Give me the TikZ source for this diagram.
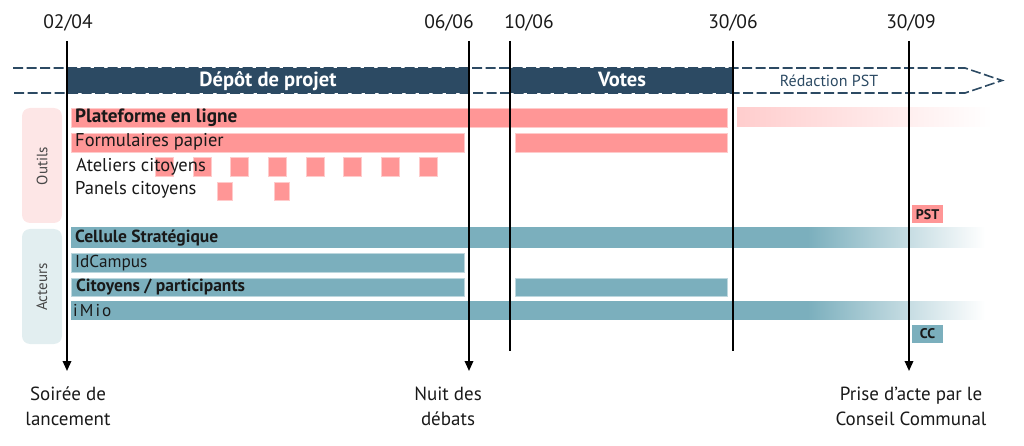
\documentclass[tikz,border=0pt]{standalone}
\usepackage{fontspec}
\setmainfont{PT Sans}
\usetikzlibrary{arrows.meta}
\definecolor{dark}{RGB}{44,74,99}
\definecolor{pinkbar}{RGB}{255,150,150}
\definecolor{pinkfade}{RGB}{255,205,205}
\definecolor{pinklight}{RGB}{253,230,230}
\definecolor{bluebar}{RGB}{123,175,189}
\definecolor{bluelight}{RGB}{226,238,240}
\definecolor{txt}{RGB}{25,25,25}
\pgfdeclarehorizontalshading{bluefade}{100bp}{color(0bp)=(bluebar); color(25bp)=(bluebar); color(65.3bp)=(bluebar); color(75bp)=(white); color(100bp)=(white)}
\pgfdeclarehorizontalshading{pinkfadeout}{100bp}{color(0bp)=(pinkfade); color(25bp)=(pinkfade); color(74bp)=(white); color(100bp)=(white)}
\tikzset{
  pbar/.style={fill=pinkbar, draw=pinkbar!50!white, line width=0.6pt},
  bbar/.style={fill=bluebar, draw=bluebar!50!white, line width=0.6pt},
  phase/.style={fill=dark},
  dashline/.style={draw=dark, line width=1.6pt, dash pattern=on 10pt off 3.5pt},
  vline/.style={draw=black, line width=1.8pt},
  varrow/.style={vline, -{Triangle[length=10pt,width=8.5pt]}},
  datelbl/.style={inner sep=0, anchor=base, text=txt, font=\fontsize{19.5}{23}\selectfont},
  botlbl/.style={inner sep=0, anchor=north, align=center, text=txt, font=\fontsize{19}{25}\selectfont},
  prow/.style={inner sep=0, anchor=base west, text=txt, font=\fontsize{18.5}{20}\selectfont},
  prowb/.style={prow, font=\bfseries\fontsize{19.2}{20}\selectfont},
  brow/.style={inner sep=0, anchor=base west, text=txt, font=\fontsize{17.2}{18}\selectfont},
  browb/.style={brow, font=\bfseries\fontsize{17.5}{18}\selectfont},
  phaselbl/.style={inner sep=0, anchor=base, text=white, font=\bfseries\fontsize{20.5}{22}\selectfont},
  grp/.style={rounded corners=8pt},
  grplbl/.style={inner sep=0, rotate=90, text=txt!80, font=\fontsize{15}{18}\selectfont},
  tag/.style={inner sep=0, minimum width=31pt, minimum height=18pt, font=\bfseries\fontsize{14}{16}\selectfont, text=txt}
}
\begin{document}
\begin{tikzpicture}[x=1pt,y=-1pt]
\useasboundingbox (0,0) rectangle (1024,446);

% group boxes
\fill[pinklight, grp] (22,108) rectangle (62,223);
\fill[bluelight, grp] (22,229) rectangle (62,344);
\node[grplbl] (outils) at (42,166) {Outils};
\node[grplbl] (acteurs) at (42,287) {Acteurs};

% dashed header
\draw[dashline] (13,68) -- (965,68) -- (1002,80.5) -- (965,93) -- (13,93);
\fill[phase] (67,68) rectangle (469,93);
\fill[phase] (510,68) rectangle (733,93);
\node[phaselbl] (depot) at (268,86.5) {Dépôt de projet};
\node[phaselbl] (votes) at (622,87) {Votes};
\node[inner sep=0, anchor=base, text=dark, font=\fontsize{16}{18}\selectfont] (redac) at (829,87) {Rédaction PST};

% pink rows
\fill[pbar] (71,108) rectangle (727,127);
\shade[shading=pinkfadeout] (737,108) rectangle (997,127);
\fill[pbar] (71,133) rectangle (464,152);
\fill[pbar] (515,133) rectangle (727,152);
\foreach \x in {155,193,230,268,306,343,381,419}
  \fill[pbar] (\x,157) rectangle ++(18.5,19);
\foreach \x in {217,274}
  \fill[pbar] (\x,182) rectangle ++(15,18);
\node[prowb] (plat) at (75,122.5) {Plateforme en ligne};
\node[prow] (form) at (75,147) {Formulaires papier};
\node[prow] (atel) at (76,172) {Ateliers citoyens};
\node[prow] (pan) at (75,195) {Panels citoyens};

% blue rows
\shade[shading=bluefade] (71,228) rectangle (985,247);
\fill[bbar] (71,253) rectangle (464,272);
\fill[bbar] (71,278) rectangle (464,296);
\fill[bbar] (515,278) rectangle (727,296);
\shade[shading=bluefade] (71,301) rectangle (985,319);
\node[browb] (cell) at (75,242) {Cellule Stratégique};
\node[brow] (idc) at (75,267) {IdCampus};
\node[browb] (cit) at (76,291) {Citoyens / participants};
\node[brow] (imio) at (73,316) {\addfontfeatures{LetterSpace=12}iMio};

% tags
\node[tag, fill=pinkbar] (pst) at (927.5,214.5) {PST};
\node[tag, fill=bluebar] (cc) at (927.5,334) {CC};

% vertical lines
\coordinate (t1) at (67,41);   \coordinate (b1) at (67,371);
\coordinate (t2) at (469,41);  \coordinate (b2) at (469,371);
\coordinate (t3) at (510,41);  \coordinate (b3) at (510,351);
\coordinate (t4) at (733,41);  \coordinate (b4) at (733,351);
\coordinate (t5) at (909,41);  \coordinate (b5) at (909,371);
\draw[varrow] (t1) -- (b1);
\draw[varrow] (t2) -- (b2);
\draw[vline] (t3) -- (b3);
\draw[vline] (t4) -- (b4);
\draw[varrow] (t5) -- (b5);

% dates
\node[datelbl] (d1) at (68,28.5) {02/04};
\node[datelbl] (d2) at (449,28.5) {06/06};
\node[datelbl] (d3) at (529,28.5) {10/06};
\node[datelbl] (d4) at (733,28.5) {30/06};
\node[datelbl] (d5) at (911,28.5) {30/09};

% bottom labels
\node[botlbl] (l1) at (68,387) {Soirée de\\lancement};
\node[botlbl] (l2) at (448,387) {Nuit des\\débats};
\node[botlbl] (l3) at (911,387) {Prise d’acte par le\\Conseil Communal};
\end{tikzpicture}
\end{document}
